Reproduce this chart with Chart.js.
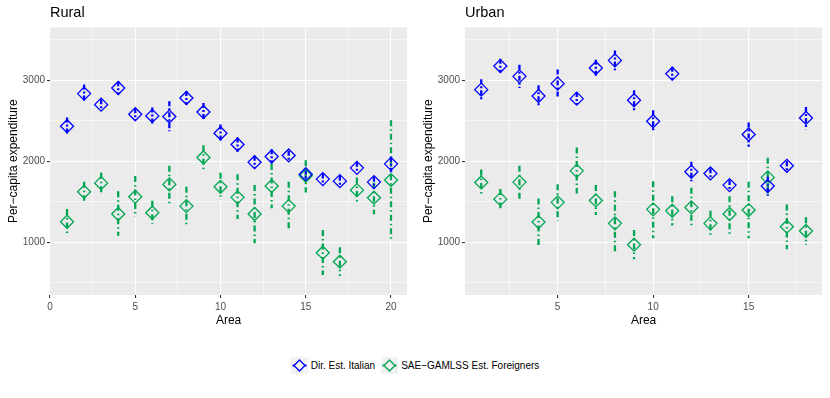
<!DOCTYPE html>
<html>
<head>
<meta charset="utf-8">
<script src="https://cdn.jsdelivr.net/npm/chart.js@4"></script>
<style>
  body { margin: 0; width: 830px; height: 398px; background: #fff; font-family: "Liberation Sans", Arial, sans-serif; position: relative; overflow: hidden; }
  canvas { position: absolute; top: 0; }
  #legend { position: absolute; top: 357px; left: 0; width: 830px; display: flex; justify-content: center; align-items: center; font-size: 10px; color: #000; }
  #legend .item { display: flex; align-items: center; margin: 0 3px; }
  #legend svg { margin-right: 3px; }
</style>
</head>
<body>
<canvas id="rural" width="415" height="330" style="left:0"></canvas>
<canvas id="urban" width="415" height="330" style="left:415px"></canvas>
<div id="legend"></div>
<script>
// colours follow the ggplot reference: pure blue for Italians, green for foreigners
const BLUE  = "#0000FF";
const GREEN = "#00A651";
const PANEL_BG = "#EBEBEB";

const Y_TICKS  = [500, 1000, 1500, 2000, 2500, 3000, 3500];
const Y_LABELS = [1000, 2000, 3000];

const RURAL_AREAS = [1, 2, 3, 4, 5, 6, 7, 8, 9, 10, 11, 12, 13, 14, 15, 16, 17, 18, 19, 20];
const RURAL_X_TICKS  = [0, 2.5, 5, 7.5, 10, 12.5, 15, 17.5, 20];
const RURAL_X_LABELS = [0, 5, 10, 15, 20];

const RURAL_ITALIAN    = [2434, 2836, 2700, 2905, 2581, 2561, 2553, 2782, 2610, 2347, 2208, 1990, 2060, 2073, 1842, 1781, 1756, 1920, 1744, 1969];
const RURAL_ITALIAN_LO = [2330, 2733, 2631, 2819, 2507, 2467, 2372, 2700, 2499, 2236, 2118, 1913, 1974, 2006, 1769, 1711, 1695, 1859, 1666, 1867];
const RURAL_ITALIAN_HI = [2540, 2947, 2766, 2988, 2655, 2664, 2741, 2868, 2720, 2454, 2294, 2068, 2150, 2130, 1904, 1851, 1822, 1994, 1809, 2056];

const RURAL_FOREIGN    = [1255, 1624, 1731, 1350, 1564, 1366, 1716, 1448, 2048, 1686, 1556, 1350, 1695, 1448, 1822, 873, 762, 1645, 1552, 1769];
const RURAL_FOREIGN_LO = [1091, 1514, 1604, 1082, 1317, 1227, 1481, 1214, 1892, 1522, 1288, 989, 1420, 1153, 1617, 599, 586, 1481, 1346, 1038];
const RURAL_FOREIGN_HI = [1411, 1748, 1859, 1631, 1818, 1514, 1945, 1686, 2200, 1859, 1842, 1707, 1966, 1748, 2015, 1153, 941, 1801, 1736, 2507];

const URBAN_AREAS = [1, 2, 3, 4, 5, 6, 7, 8, 9, 10, 11, 12, 13, 14, 15, 16, 17, 18];
const URBAN_X_TICKS  = [2.5, 5, 7.5, 10, 12.5, 15, 17.5];
const URBAN_X_LABELS = [5, 10, 15];

const URBAN_ITALIAN    = [2885, 3176, 3049, 2807, 2959, 2774, 3152, 3246, 2754, 2495, 3082, 1871, 1851, 1707, 2331, 1695, 1945, 2536];
const URBAN_ITALIAN_LO = [2754, 3095, 2905, 2672, 2782, 2696, 3049, 3123, 2622, 2360, 3000, 1756, 1781, 1637, 2179, 1576, 1883, 2397];
const URBAN_ITALIAN_HI = [3012, 3267, 3193, 2938, 3135, 2856, 3254, 3369, 2877, 2631, 3168, 1994, 1916, 1769, 2479, 1809, 2002, 2672];

const URBAN_FOREIGN    = [1740, 1534, 1744, 1251, 1494, 1883, 1518, 1235, 972, 1408, 1391, 1432, 1235, 1350, 1399, 1802, 1194, 1141];
const URBAN_FOREIGN_LO = [1584, 1420, 1534, 960, 1268, 1604, 1337, 857, 792, 1050, 1210, 1186, 1085, 1091, 1050, 1584, 915, 968];
const URBAN_FOREIGN_HI = [1900, 1658, 1945, 1543, 1719, 2171, 1707, 1630, 1153, 1756, 1571, 1675, 1391, 1571, 1748, 2044, 1469, 1309];

const SERIES_NAMES = ["Dir. Est. Italian", "SAE\u2212GAMLSS Est. Foreigners"];

// grey panel behind the grid, like theme_grey()
const panelBackground = {
  id: "panelBackground",
  beforeDraw(chart) {
    const { ctx, chartArea: a } = chart;
    ctx.save();
    ctx.fillStyle = PANEL_BG;
    ctx.fillRect(a.left, a.top, a.right - a.left, a.bottom - a.top);
    ctx.restore();
  },
};

// vertical interval lines, drawn under the diamonds
const errorBars = {
  id: "errorBars",
  beforeDatasetsDraw(chart) {
    const { ctx } = chart;
    const y = chart.scales.y;
    ctx.save();
    ctx.beginPath();
    ctx.rect(chart.chartArea.left, chart.chartArea.top, chart.chartArea.right - chart.chartArea.left, chart.chartArea.bottom - chart.chartArea.top);
    ctx.clip();
    // draw foreigners first so the Italian bars sit on top
    [...chart.data.datasets].reverse().forEach(ds => {
      const meta = chart.getDatasetMeta(chart.data.datasets.indexOf(ds));
      ctx.strokeStyle = ds.borderColor;
      ctx.lineWidth = 2.3;
      ctx.setLineDash(ds.barDash);
      meta.data.forEach((pt, i) => {
        ctx.beginPath();
        ctx.moveTo(pt.x, y.getPixelForValue(ds.upper[i]));
        ctx.lineTo(pt.x, y.getPixelForValue(ds.lower[i]));
        ctx.stroke();
      });
    });
    ctx.restore();
  },
};

function pointsOf(areas, values) {
  return areas.map((a, i) => ({ x: a, y: values[i] }));
}

function gridWidth(ctx, labels) {
  return labels.includes(ctx.tick.value) ? 1.1 : 0.55;
}

function makePanel(id, title, areas, xMin, xMax, xTicks, xLabels, ita, itaLo, itaHi, frg, frgLo, frgHi) {
  new Chart(document.getElementById(id), {
    type: "scatter",
    data: {
      datasets: [
        {
          label: SERIES_NAMES[0],
          data: pointsOf(areas, ita),
          lower: itaLo, upper: itaHi,
          barDash: [5, 2, 2, 2],
          borderColor: BLUE,
          backgroundColor: "rgba(0,0,0,0)",
          pointStyle: "rectRot",
          pointRadius: 6.5,
          borderWidth: 1.3,
        },
        {
          label: SERIES_NAMES[1],
          data: pointsOf(areas, frg),
          lower: frgLo, upper: frgHi,
          barDash: [6, 3, 1.5, 3],
          borderColor: GREEN,
          backgroundColor: "rgba(0,0,0,0)",
          pointStyle: "rectRot",
          pointRadius: 6.5,
          borderWidth: 1.3,
        },
      ],
    },
    options: {
      responsive: false,
      animation: false,
      events: [],
      layout: { padding: { left: 0, right: 6, top: 0, bottom: 0 } },
      plugins: {
        legend: { display: false },
        tooltip: { enabled: false },
        title: {
          display: true,
          text: title,
          align: "start",
          fullSize: false,
          color: "#000",
          font: { family: "Liberation Sans", size: 14.5, weight: "normal" },
          padding: { top: 4, bottom: 6 },
        },
      },
      scales: {
        x: {
          type: "linear",
          min: xMin,
          max: xMax,
          afterBuildTicks: s => { s.ticks = xTicks.map(v => ({ value: v })); },
          afterFit: s => { s.height = 35; },
          border: { display: false },
          grid: {
            color: "#FFFFFF",
            lineWidth: c => gridWidth(c, xLabels),
            tickLength: 3,
            tickColor: c => xLabels.includes(c.tick.value) ? "#333333" : "rgba(0,0,0,0)",
          },
          ticks: {
            autoSkip: false,
            maxRotation: 0,
            color: "#4D4D4D",
            padding: 3,
            font: { family: "Liberation Sans", size: 10 },
            callback: v => xLabels.includes(v) ? String(v) : "",
          },
          title: {
            display: true,
            text: "Area",
            color: "#000",
            font: { family: "Liberation Sans", size: 12 },
            padding: { top: 0, bottom: 2 },
          },
        },
        y: {
          min: 351,
          max: 3653,
          afterBuildTicks: s => { s.ticks = Y_TICKS.map(v => ({ value: v })); },
          afterFit: s => { s.width = 50; },
          border: { display: false },
          grid: {
            color: "#FFFFFF",
            lineWidth: c => gridWidth(c, Y_LABELS),
            tickLength: 3,
            tickColor: c => Y_LABELS.includes(c.tick.value) ? "#333333" : "rgba(0,0,0,0)",
          },
          ticks: {
            color: "#4D4D4D",
            padding: 2,
            font: { family: "Liberation Sans", size: 10 },
            callback: v => Y_LABELS.includes(v) ? String(v) : "",
          },
          title: {
            display: true,
            text: "Per\u2212capita expenditure",
            color: "#000",
            font: { family: "Liberation Sans", size: 12 },
            padding: { top: 6, bottom: 0 },
          },
        },
      },
    },
    plugins: [panelBackground, errorBars],
  });
}

makePanel("rural", "Rural", RURAL_AREAS, 0, 20.95, RURAL_X_TICKS, RURAL_X_LABELS,
  RURAL_ITALIAN, RURAL_ITALIAN_LO, RURAL_ITALIAN_HI, RURAL_FOREIGN, RURAL_FOREIGN_LO, RURAL_FOREIGN_HI);
makePanel("urban", "Urban", URBAN_AREAS, 0.15, 18.85, URBAN_X_TICKS, URBAN_X_LABELS,
  URBAN_ITALIAN, URBAN_ITALIAN_LO, URBAN_ITALIAN_HI, URBAN_FOREIGN, URBAN_FOREIGN_LO, URBAN_FOREIGN_HI);

// legend keys: grey box with a diamond on a short horizontal line
function keySvg(color) {
  return `<svg width="17" height="17" viewBox="0 0 17 17">
    <rect width="17" height="17" fill="#F2F2F2"/>
    <line x1="1.5" y1="8.5" x2="15.5" y2="8.5" stroke="${color}" stroke-width="2"/>
    <polygon points="8.5,3 14,8.5 8.5,14 3,8.5" fill="#F2F2F2" stroke="${color}" stroke-width="1.3"/>
  </svg>`;
}
document.getElementById("legend").innerHTML =
  `<div class="item">${keySvg(BLUE)}<span>${SERIES_NAMES[0]}</span></div>` +
  `<div class="item">${keySvg(GREEN)}<span>${SERIES_NAMES[1]}</span></div>`;
</script>
</body>
</html>
